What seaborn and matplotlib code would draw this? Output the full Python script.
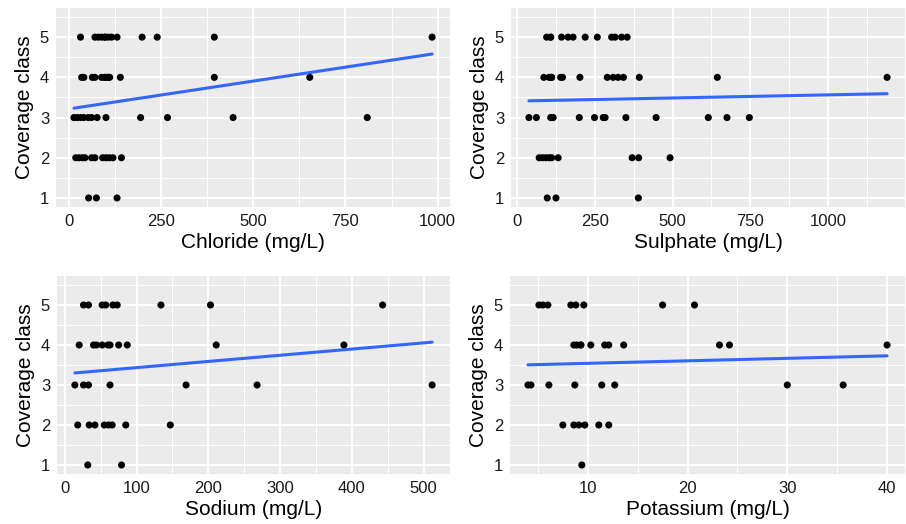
import pandas as pd
import matplotlib
matplotlib.use("Agg")
import matplotlib.pyplot as plt
from matplotlib.ticker import AutoMinorLocator
import seaborn as sns

# Coverage class -> concentrations (mg/L)
# (a few points sit on top of each other in the clusters)
chloride = {
    5: [31, 70, 79, 88, 97, 97, 106, 115, 130, 198, 239, 394, 985],
    4: [34, 40, 63, 70, 88, 97, 97, 106, 106, 110, 139, 394, 653],
    3: [13, 22, 31, 40, 52, 61, 76, 100, 194, 267, 445, 809],
    2: [18, 27, 36, 43, 61, 70, 91, 100, 109, 119, 142],
    1: [53, 74, 130],
}
sulphate = {
    5: [95, 108, 108, 143, 164, 180, 219, 258, 304, 315, 336, 354],
    4: [86, 103, 111, 111, 140, 146, 202, 290, 309, 325, 342, 393, 644, 1190],
    3: [38, 62, 108, 116, 200, 249, 277, 283, 350, 447, 615, 675, 747],
    2: [71, 82, 93, 103, 111, 132, 370, 391, 492],
    1: [97, 125, 390],
}
sodium = {
    5: [26, 33, 52, 57, 67, 73, 134, 203, 443],
    4: [20, 40, 44, 52, 60, 63, 75, 87, 211, 389],
    3: [14, 26, 33, 63, 169, 268, 512],
    2: [18, 34, 42, 55, 61, 66, 85, 147],
    1: [32, 79],
}
potassium = {
    5: [5.1, 5.5, 6.0, 8.3, 8.8, 9.6, 17.5, 20.7],
    4: [8.6, 8.9, 9.3, 9.3, 10.3, 11.7, 12.1, 13.6, 23.2, 24.2, 40.0],
    3: [4.0, 4.3, 6.1, 8.7, 11.4, 12.7, 30.0, 35.6],
    2: [7.5, 8.6, 9.1, 9.7, 11.1, 12.1],
    1: [9.4],
}

x_labels = ["Chloride (mg/L)", "Sulphate (mg/L)", "Sodium (mg/L)", "Potassium (mg/L)"]
x_ticks = [
    [0, 250, 500, 750, 1000],
    [0, 250, 500, 750, 1000],
    [0, 100, 200, 300, 400, 500],
    [10, 20, 30, 40],
]
y_ticks = [1, 2, 3, 4, 5]


def to_frame(d):
    rows = [(v, k) for k, vals in d.items() for v in vals]
    return pd.DataFrame(rows, columns=["conc", "coverage"])


sns.set_theme(style="darkgrid", rc={
    "axes.facecolor": "#EBEBEB",
    "grid.color": "white",
    "axes.edgecolor": "none",
    "xtick.color": "#333333",
    "ytick.color": "#333333",
})
plt.rcParams["font.family"] = ["Liberation Sans", "DejaVu Sans"]

fig = plt.figure(figsize=(9.06, 5.24), dpi=100)
W, H = 906, 524
# panel boxes in pixels: left, top, right, bottom
boxes = [(56, 8, 450, 207), (511, 8, 905, 207),
         (57, 276, 450, 474), (510, 276, 905, 474)]

for data, box, xlab, xt in zip([chloride, sulphate, sodium, potassium],
                               boxes, x_labels, x_ticks):
    l, t, r, b = box
    ax = fig.add_axes([l / W, 1 - b / H, (r - l) / W, (b - t) / H])
    df = to_frame(data)
    sns.scatterplot(data=df, x="conc", y="coverage", ax=ax, color="black",
                    s=26, edgecolor="none", zorder=3)
    sns.regplot(data=df, x="conc", y="coverage", ax=ax, scatter=False,
                ci=None, color="#3366FF", line_kws={"lw": 2.2, "zorder": 4})
    ax.set_ylim(0.775, 5.725)
    ax.set_xticks(xt)
    ax.set_yticks(y_ticks)
    ax.xaxis.set_minor_locator(AutoMinorLocator(2))
    ax.yaxis.set_minor_locator(AutoMinorLocator(2))
    ax.grid(which="major", color="white", lw=1.4)
    ax.grid(which="minor", color="white", lw=0.7)
    ax.tick_params(which="major", length=2.75, width=0.9, pad=2.2,
                   labelsize=12, labelcolor="#1A1A1A", color="#333333")
    ax.tick_params(which="minor", length=0)
    ax.set_xlabel(xlab, fontsize=15, color="black", labelpad=3)
    ax.set_ylabel("Coverage class", fontsize=15, color="black", labelpad=4)
    for s in ax.spines.values():
        s.set_visible(False)

fig.savefig("out.png", dpi=100, facecolor="white")
